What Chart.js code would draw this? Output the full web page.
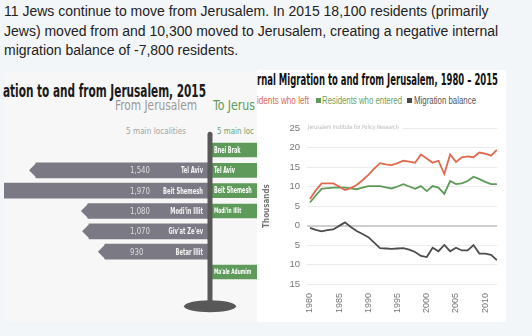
<!DOCTYPE html>
<html>
<head>
<meta charset="utf-8">
<script src="https://cdn.jsdelivr.net/npm/chart.js@4.4.1/dist/chart.umd.min.js"></script>
<style>
  html, body { margin: 0; padding: 0; }
  body {
    width: 532px; height: 336px; position: relative; overflow: hidden;
    background: #f3f6f9;
    font-family: 'Liberation Sans', Helvetica, Arial, sans-serif;
  }
  #lead { position: absolute; left: 4px; top: 2px; margin: 0; font-size: 14px; line-height: 19.5px; color: #222; white-space: nowrap; }
  .box { position: absolute; }
  #leftBox { left: 4px; top: 71px; width: 253px; height: 251px; background: #f7f7f7; }
  #rightBox { left: 257px; top: 70px; width: 249px; height: 252px; background: #fff; }
  .t { position: absolute; white-space: nowrap; line-height: 1; transform-origin: 0 50%;
       font-family: 'Liberation Sans Narrow', 'DejaVu Sans Condensed', 'Liberation Sans', sans-serif; }
  .sq { position: absolute; width: 5px; height: 5px; }
  canvas { position: absolute; }
</style>
</head>
<body>
<p id="lead">11 Jews continue to move from Jerusalem. In 2015 18,100 residents (primarily<br>Jews) moved from and 10,300 moved to Jerusalem, creating a negative internal<br>migration balance of -7,800 residents.</p>

<div class="box" id="leftBox"></div>
<span class="t" style="left:3px; top:82px; font-size:18px; font-weight:bold; color:#1a1a1a" data-w="203">ation to and from Jerusalem, 2015</span>
<span class="t" style="left:115px; top:98px; font-size:14.5px; color:#9a9a9a" data-w="82">From Jerusalem</span>
<span class="t" style="left:126px; top:126px; font-size:9.5px; color:#a3a3a3" data-w="60">5 main localities</span>
<span class="t" style="left:212.7px; top:98px; font-size:14.5px; color:#5f9b5a" data-w="42">To Jerus</span>
<span class="t" style="left:217px; top:126px; font-size:9.5px; color:#6ea36a" data-w="37">5 main loc</span>
<canvas id="signs" width="253" height="185" style="left:4px; top:130px; width:253px; height:185px"></canvas>

<div class="box" id="rightBox"></div>
<span class="t" style="left:257px; top:73px; font-size:15px; font-weight:bold; color:#111" data-w="241">rnal Migration to and from Jerusalem, 1980 – 2015</span>
<span class="t" style="left:257px; top:95.5px; font-size:10px; color:#e0694e; font-family:'Liberation Sans',sans-serif" data-w="52">idents who left</span>
<span class="sq" style="left:316px; top:97.5px; background:#5e9a5a"></span>
<span class="t" style="left:322px; top:95.5px; font-size:10px; color:#6a9f66; font-family:'Liberation Sans',sans-serif" data-w="80">Residents who entered</span>
<span class="sq" style="left:406.5px; top:97.5px; background:#4a4a4a"></span>
<span class="t" style="left:413.7px; top:95.5px; font-size:10px; color:#555; font-family:'Liberation Sans',sans-serif" data-w="62">Migration balance</span>
<canvas id="trend" width="248" height="214" style="left:257px; top:108px; width:248px; height:214px"></canvas>
<span class="t" style="left:307.7px; top:124.3px; font-size:6px; color:#b5b5b5; background:#fff; padding-right:5px" data-w="95">Jerusalem Institute for Policy Research</span>

<script>
'use strict';

// --- Internal migration 1980-2012 (thousands)
var years = [1980, 1981, 1982, 1983, 1984, 1985, 1986, 1987, 1988, 1989,
             1990, 1991, 1992, 1993, 1994, 1995, 1996, 1997, 1998, 1999,
             2000, 2001, 2002, 2003, 2004, 2005, 2006, 2007, 2008, 2009,
             2010, 2011, 2012];
var residentsLeft = [6.8, 9.0, 10.8, 10.8, 10.8, 10.0, 9.1, 9.6, 10.4, 11.6,
                     13.0, 14.6, 16.0, 15.7, 15.5, 16.0, 16.6, 16.4, 16.1, 18.2,
                     17.2, 16.1, 16.6, 13.2, 18.2, 16.3, 17.5, 17.7, 17.5, 18.7,
                     18.4, 17.9, 19.4];
var residentsEntered = [5.9, 7.7, 9.4, 9.6, 9.7, 9.7, 9.7, 9.5, 9.3, 9.7,
                        10.1, 10.1, 10.1, 9.8, 9.5, 10.0, 10.6, 10.0, 9.4, 10.1,
                        8.8, 10.1, 9.7, 8.1, 11.4, 10.6, 10.8, 11.4, 12.5, 11.9,
                        11.2, 10.6, 10.6];
var migrationBalance = [-0.6, -1.1, -1.5, -1.2, -1.0, -0.1, 0.8, -0.4, -1.4, -2.2,
                        -3.0, -4.4, -5.8, -5.9, -6.0, -5.9, -5.8, -6.2, -6.8, -7.8,
                        -8.1, -5.7, -6.6, -5.0, -6.6, -5.7, -6.4, -6.4, -5.0, -7.2,
                        -7.2, -7.5, -8.9];
var seriesNames = ['Residents who left', 'Residents who entered', 'Migration balance'];
var yearTicks = [1980, 1985, 1990, 1995, 2000, 2005, 2010];

// --- Signpost, 2015: main localities
var places = ['Bnei Brak', 'Tel Aviv', 'Beit Shemesh', "Modi'in Illit", "Giv'at Ze'ev", 'Betar Illit', "Ma'ale Adumim"];
var fromJerusalem = [null, 1540, 1970, 1080, 1070, 930, null];
var toJerusalem = [900, 850, 700, 650, null, null, 480];

Chart.defaults.animation = false;
var narrow = "'Liberation Sans Narrow', 'DejaVu Sans Condensed', 'Liberation Sans', sans-serif";

// squeeze html labels to the width they take in the picture
document.querySelectorAll('[data-w]').forEach(function(el) {
  var w = el.getBoundingClientRect().width;
  el.style.transform = 'scaleX(' + (parseFloat(el.dataset.w) / w) + ')';
});

function squeezeText(ctx, s, x, y, align, font, color, sx) {
  ctx.save();
  ctx.font = font;
  ctx.fillStyle = color;
  ctx.textBaseline = 'middle';
  ctx.textAlign = align;
  ctx.translate(x, y);
  ctx.scale(sx, 1);
  ctx.fillText(s, 0, 0);
  ctx.restore();
}

// arrows, labels, pole
var signpost = {
  id: 'signpost',
  afterDatasetsDraw: function(chart) {
    var ctx = chart.ctx;
    var area = chart.chartArea;
    var x0 = chart.scales.x.getPixelForValue(0);
    var grey = '#7b7a84';

    ctx.save();
    ctx.font = 'bold 9px ' + narrow;
    var sxName = 40 / ctx.measureText('Beit Shemesh').width;
    ctx.font = '9px ' + narrow;
    var sxVal = 20 / ctx.measureText('1,540').width;
    ctx.restore();

    chart.getDatasetMeta(0).data.forEach(function(bar, i) {
      if (fromJerusalem[i] == null) return;
      var left = Math.min(bar.x, bar.base);
      var h = bar.height;
      ctx.save();
      ctx.fillStyle = grey;
      ctx.beginPath();
      ctx.moveTo(left + 0.5, bar.y - h / 2);
      ctx.lineTo(left - 7, bar.y);
      ctx.lineTo(left + 0.5, bar.y + h / 2);
      ctx.closePath();
      ctx.fill();
      ctx.restore();
      squeezeText(ctx, fromJerusalem[i].toLocaleString('en-US'), x0 - 80, bar.y + 0.5, 'left', '9px ' + narrow, '#dedede', sxVal);
      squeezeText(ctx, places[i], x0 - 7, bar.y + 0.5, 'right', 'bold 9px ' + narrow, '#f4f4f4', sxName);
    });

    chart.getDatasetMeta(1).data.forEach(function(bar, i) {
      if (toJerusalem[i] == null) return;
      var size = places[i].length > 12 ? 7.5 : 8.5;
      squeezeText(ctx, places[i], x0 + 4, bar.y + 0.5, 'left', 'bold ' + size + 'px ' + narrow, '#ffffff', sxName);
    });

    // pole and base
    var top = area.top - 8;
    var foot = area.bottom + 24;
    ctx.save();
    ctx.fillStyle = '#585858';
    ctx.beginPath();
    ctx.moveTo(x0 - 2.5, foot);
    ctx.lineTo(x0 - 2.5, top + 2.5);
    ctx.arc(x0, top + 2.5, 2.5, Math.PI, 0);
    ctx.lineTo(x0 + 2.5, foot);
    ctx.closePath();
    ctx.fill();
    ctx.beginPath();
    ctx.ellipse(x0, foot, 26, 6, 0, 0, Math.PI * 2);
    ctx.fill();
    ctx.restore();
  }
};

new Chart(document.getElementById('signs'), {
  type: 'bar',
  data: {
    labels: places,
    datasets: [{
      label: 'From Jerusalem',
      data: fromJerusalem.map(function(v) { return v == null ? null : [-v, 0]; }),
      backgroundColor: '#7b7a84',
      grouped: false,
      barThickness: 15
    }, {
      label: 'To Jerusalem',
      data: toJerusalem.map(function(v) { return v == null ? null : [0, v]; }),
      backgroundColor: '#5e9a5a',
      grouped: false,
      barThickness: 14
    }]
  },
  options: {
    indexAxis: 'y',
    responsive: false,
    layout: { padding: { top: 9.8, bottom: 32.8, left: 0, right: 0 } },
    scales: {
      x: { display: false, min: -1823, max: 416 },
      y: { display: false }
    },
    plugins: { legend: { display: false }, tooltip: { enabled: false } }
  },
  plugins: [signpost]
});

// --- line chart
function points(values) {
  return values.map(function(v, i) { return { x: years[i], y: v }; });
}

new Chart(document.getElementById('trend'), {
  type: 'line',
  data: {
    datasets: [{
      label: seriesNames[0],
      data: points(residentsLeft),
      borderColor: '#e0694e',
      borderWidth: 1.8,
      pointRadius: 0,
      tension: 0
    }, {
      label: seriesNames[1],
      data: points(residentsEntered),
      borderColor: '#5e9a5a',
      borderWidth: 1.8,
      pointRadius: 0,
      tension: 0
    }, {
      label: seriesNames[2],
      data: points(migrationBalance),
      borderColor: '#4d4d4d',
      borderWidth: 1.8,
      pointRadius: 0,
      tension: 0
    }]
  },
  options: {
    responsive: false,
    layout: { padding: { top: 20, right: 0, bottom: 0, left: 0 } },
    scales: {
      x: {
        type: 'linear',
        min: 1979.5,
        max: 2012.05,
        grid: { display: false, drawTicks: false },
        border: { display: false },
        afterBuildTicks: function(axis) {
          axis.ticks = yearTicks.map(function(v) { return { value: v }; });
        },
        afterFit: function(axis) { axis.height = 38; },
        ticks: {
          minRotation: 90,
          maxRotation: 90,
          padding: 9,
          color: '#777',
          font: { family: "'Liberation Sans', sans-serif", size: 9 },
          callback: function(v) { return String(v); }
        }
      },
      y: {
        min: -15,
        max: 25,
        afterFit: function(axis) { axis.width = 50; },
        grid: {
          drawTicks: false,
          color: function(c) { return c.tick && c.tick.value === 0 ? '#cfcfcf' : '#ececec'; },
          lineWidth: function(c) { return c.tick && c.tick.value === 0 ? 2 : 1; }
        },
        border: { display: false },
        ticks: {
          stepSize: 5,
          padding: 7,
          color: '#777',
          font: { family: "'Liberation Sans', sans-serif", size: 9.5 },
          callback: function(v) { return Math.abs(v); }
        },
        title: {
          display: true,
          text: 'Thousands',
          color: '#777',
          padding: { top: 5, bottom: 0 },
          font: { family: narrow, size: 8, weight: 'bold' }
        }
      }
    },
    plugins: { legend: { display: false }, tooltip: { enabled: false } }
  }
});
</script>
</body>
</html>
